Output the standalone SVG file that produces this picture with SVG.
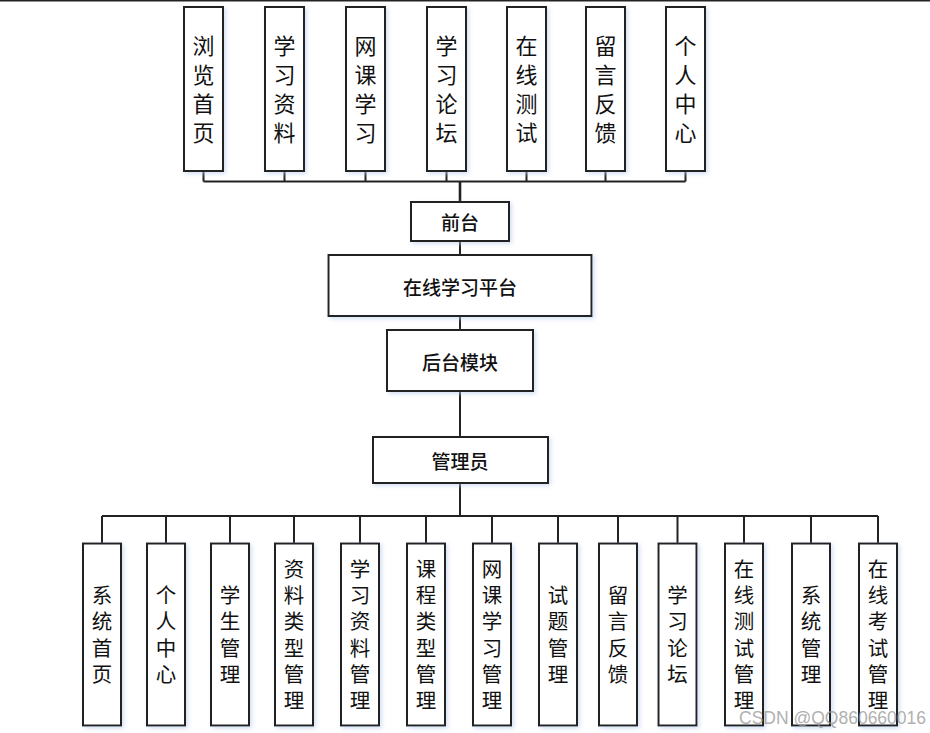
<svg xmlns="http://www.w3.org/2000/svg" width="930" height="733" viewBox="0 0 930 733">
<style>
.box{fill:#ffffff;stroke:#222;stroke-width:2;filter:url(#sh)}
.ln{stroke:#222;stroke-width:2;fill:none}
.vt{font-family:"Noto Sans CJK SC","Noto Sans CJK TC",sans-serif;font-size:22px;fill:#111;text-anchor:middle;dominant-baseline:central}
.vb{font-family:"Noto Sans CJK SC","Noto Sans CJK TC",sans-serif;font-size:20.5px;fill:#111;text-anchor:middle;dominant-baseline:central}
.hm{font-family:"Noto Sans CJK SC","Noto Sans CJK TC",sans-serif;font-size:19px;font-weight:500;fill:#111;text-anchor:middle;dominant-baseline:central}
.wm{font-family:"Liberation Sans",Arial,sans-serif;font-size:17.5px;fill:#9a9a9a;fill-opacity:0.8}
</style>
<defs>
<filter id="sh" x="-20%" y="-20%" width="150%" height="150%">
<feDropShadow dx="2" dy="2" stdDeviation="2" flood-color="#b8cdee" flood-opacity="0.6"/>
</filter>
</defs>
<rect width="930" height="733" fill="#ffffff"/>
<line x1="0" y1="0.7" x2="930" y2="0.7" stroke="#222" stroke-width="1.6"/>
<g id="connectors">
<path class="ln" d="M203.5 171V181.5M284.5 171V181.5M365.5 171V181.5M446.5 171V181.5M526.5 171V181.5M605.5 171V181.5M685.5 171V181.5M203.5 181.5H685.5"/>
<line x1="460" y1="181.5" x2="460" y2="202" stroke="#222" stroke-width="2.6"/>
<path class="ln" d="M460 241V255M460 316V330M460 391V437M460 483V516"/>
<path class="ln" d="M102 516H878M102 516V543.5M166 516V543.5M230 516V543.5M294 516V543.5M360 516V543.5M426 516V543.5M492 516V543.5M558 516V543.5M618 516V543.5M677.5 516V543.5M744 516V543.5M811 516V543.5M878 516V543.5"/>
</g>
<g id="n_browse"><rect class="box" x="184" y="7" width="39" height="164"/><text class="vt"><tspan x="203.5" y="43.5">浏</tspan><tspan x="203.5" y="72.5">览</tspan><tspan x="203.5" y="101.5">首</tspan><tspan x="203.5" y="130.5">页</tspan></text></g>
<g id="n_material"><rect class="box" x="265" y="7" width="39" height="164"/><text class="vt"><tspan x="284.5" y="43.5">学</tspan><tspan x="284.5" y="72.5">习</tspan><tspan x="284.5" y="101.5">资</tspan><tspan x="284.5" y="130.5">料</tspan></text></g>
<g id="n_course"><rect class="box" x="346" y="7" width="39" height="164"/><text class="vt"><tspan x="365.5" y="43.5">网</tspan><tspan x="365.5" y="72.5">课</tspan><tspan x="365.5" y="101.5">学</tspan><tspan x="365.5" y="130.5">习</tspan></text></g>
<g id="n_forum"><rect class="box" x="427" y="7" width="39" height="164"/><text class="vt"><tspan x="446.5" y="43.5">学</tspan><tspan x="446.5" y="72.5">习</tspan><tspan x="446.5" y="101.5">论</tspan><tspan x="446.5" y="130.5">坛</tspan></text></g>
<g id="n_test"><rect class="box" x="507" y="7" width="39" height="164"/><text class="vt"><tspan x="526.5" y="43.5">在</tspan><tspan x="526.5" y="72.5">线</tspan><tspan x="526.5" y="101.5">测</tspan><tspan x="526.5" y="130.5">试</tspan></text></g>
<g id="n_feedback"><rect class="box" x="586" y="7" width="39" height="164"/><text class="vt"><tspan x="605.5" y="43.5">留</tspan><tspan x="605.5" y="72.5">言</tspan><tspan x="605.5" y="101.5">反</tspan><tspan x="605.5" y="130.5">馈</tspan></text></g>
<g id="n_personal"><rect class="box" x="666" y="7" width="39" height="164"/><text class="vt"><tspan x="685.5" y="43.5">个</tspan><tspan x="685.5" y="72.5">人</tspan><tspan x="685.5" y="101.5">中</tspan><tspan x="685.5" y="130.5">心</tspan></text></g>
<g id="n_front"><rect class="box" x="411" y="202" width="98" height="39"/><text class="hm" x="460" y="221.5">前台</text></g>
<g id="n_platform"><rect class="box" x="328.5" y="255" width="263" height="61"/><text class="hm" x="460" y="286">在线学习平台</text></g>
<g id="n_backend"><rect class="box" x="387" y="330" width="146" height="61"/><text class="hm" x="460" y="361">后台模块</text></g>
<g id="n_admin"><rect class="box" x="373" y="437" width="175" height="46"/><text class="hm" x="460" y="460">管理员</text></g>
<g id="b_home"><rect class="box" x="83" y="543.5" width="38" height="182"/><text class="vb"><tspan x="102" y="594">系</tspan><tspan x="102" y="620.3">统</tspan><tspan x="102" y="646.6">首</tspan><tspan x="102" y="672.9">页</tspan></text></g>
<g id="b_personal"><rect class="box" x="147" y="543.5" width="38" height="182"/><text class="vb"><tspan x="166" y="594">个</tspan><tspan x="166" y="620.3">人</tspan><tspan x="166" y="646.6">中</tspan><tspan x="166" y="672.9">心</tspan></text></g>
<g id="b_student"><rect class="box" x="211" y="543.5" width="38" height="182"/><text class="vb"><tspan x="230" y="594">学</tspan><tspan x="230" y="620.3">生</tspan><tspan x="230" y="646.6">管</tspan><tspan x="230" y="672.9">理</tspan></text></g>
<g id="b_mattype"><rect class="box" x="275" y="543.5" width="38" height="182"/><text class="vb"><tspan x="294" y="567.7">资</tspan><tspan x="294" y="594">料</tspan><tspan x="294" y="620.3">类</tspan><tspan x="294" y="646.6">型</tspan><tspan x="294" y="672.9">管</tspan><tspan x="294" y="699.2">理</tspan></text></g>
<g id="b_material"><rect class="box" x="341" y="543.5" width="38" height="182"/><text class="vb"><tspan x="360" y="567.7">学</tspan><tspan x="360" y="594">习</tspan><tspan x="360" y="620.3">资</tspan><tspan x="360" y="646.6">料</tspan><tspan x="360" y="672.9">管</tspan><tspan x="360" y="699.2">理</tspan></text></g>
<g id="b_coursetype"><rect class="box" x="407" y="543.5" width="38" height="182"/><text class="vb"><tspan x="426" y="567.7">课</tspan><tspan x="426" y="594">程</tspan><tspan x="426" y="620.3">类</tspan><tspan x="426" y="646.6">型</tspan><tspan x="426" y="672.9">管</tspan><tspan x="426" y="699.2">理</tspan></text></g>
<g id="b_course"><rect class="box" x="473" y="543.5" width="38" height="182"/><text class="vb"><tspan x="492" y="567.7">网</tspan><tspan x="492" y="594">课</tspan><tspan x="492" y="620.3">学</tspan><tspan x="492" y="646.6">习</tspan><tspan x="492" y="672.9">管</tspan><tspan x="492" y="699.2">理</tspan></text></g>
<g id="b_question"><rect class="box" x="539" y="543.5" width="38" height="182"/><text class="vb"><tspan x="558" y="594">试</tspan><tspan x="558" y="620.3">题</tspan><tspan x="558" y="646.6">管</tspan><tspan x="558" y="672.9">理</tspan></text></g>
<g id="b_feedback"><rect class="box" x="599" y="543.5" width="38" height="182"/><text class="vb"><tspan x="618" y="594">留</tspan><tspan x="618" y="620.3">言</tspan><tspan x="618" y="646.6">反</tspan><tspan x="618" y="672.9">馈</tspan></text></g>
<g id="b_forum"><rect class="box" x="658.5" y="543.5" width="38" height="182"/><text class="vb"><tspan x="677.5" y="594">学</tspan><tspan x="677.5" y="620.3">习</tspan><tspan x="677.5" y="646.6">论</tspan><tspan x="677.5" y="672.9">坛</tspan></text></g>
<g id="b_test"><rect class="box" x="725" y="543.5" width="38" height="182"/><text class="vb"><tspan x="744" y="567.7">在</tspan><tspan x="744" y="594">线</tspan><tspan x="744" y="620.3">测</tspan><tspan x="744" y="646.6">试</tspan><tspan x="744" y="672.9">管</tspan><tspan x="744" y="699.2">理</tspan></text></g>
<g id="b_system"><rect class="box" x="792" y="543.5" width="38" height="182"/><text class="vb"><tspan x="811" y="594">系</tspan><tspan x="811" y="620.3">统</tspan><tspan x="811" y="646.6">管</tspan><tspan x="811" y="672.9">理</tspan></text></g>
<g id="b_exam"><rect class="box" x="859" y="543.5" width="38" height="182"/><text class="vb"><tspan x="878" y="567.7">在</tspan><tspan x="878" y="594">线</tspan><tspan x="878" y="620.3">考</tspan><tspan x="878" y="646.6">试</tspan><tspan x="878" y="672.9">管</tspan><tspan x="878" y="699.2">理</tspan></text></g>
<text class="wm" x="739" y="724">CSDN @QQ860660016</text>
</svg>
